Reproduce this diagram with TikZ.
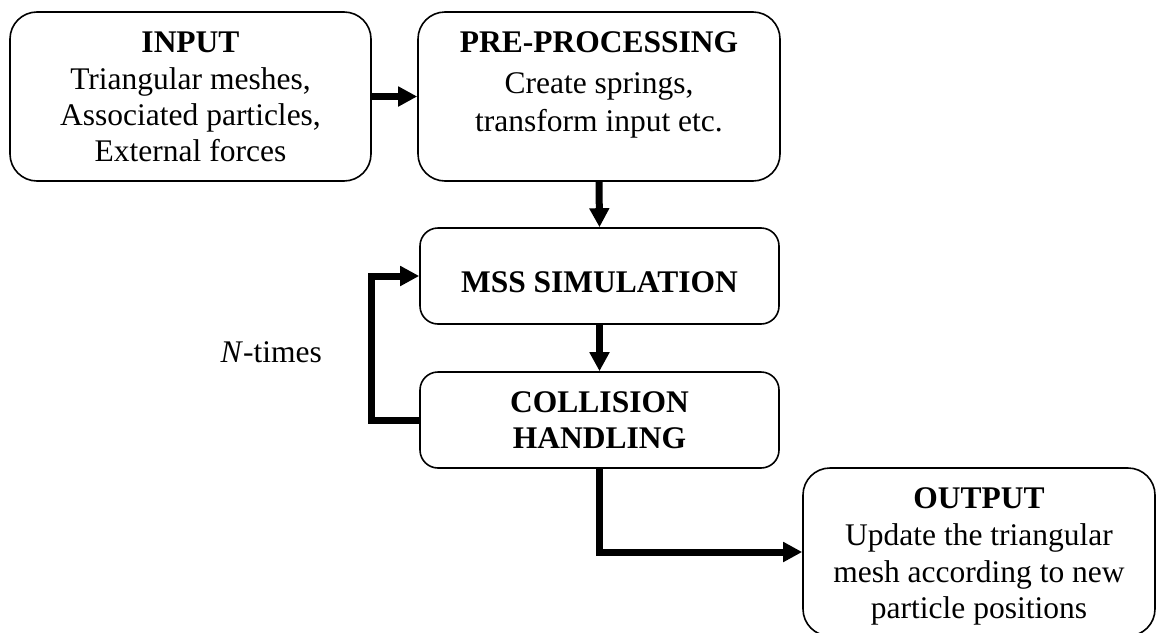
\documentclass[tikz,border=0pt]{standalone}
\usepackage{fontspec}
\setmainfont{Liberation Serif}
\usetikzlibrary{arrows.meta}
\begin{document}
\begin{tikzpicture}[x=1pt,y=-1pt,
  bigbox/.style={draw, line width=1.6pt, rounded corners=27pt, inner sep=0pt, fill=white},
  smallbox/.style={draw, line width=1.6pt, rounded corners=18pt, inner sep=0pt, fill=white},
  txt/.style={font=\fontsize{31.5}{36}\selectfont, anchor=base, inner sep=0pt},
  ttl/.style={font=\fontsize{31.5}{36}\selectfont\bfseries, anchor=base, inner sep=0pt},
  arr/.style={line width=7pt, line join=miter, -{Triangle[length=19pt,width=19pt]}}]
\useasboundingbox (0,0) rectangle (1156,632);
\clip (0,0) rectangle (1156,632);
% boxes
\node[bigbox, minimum width=361pt, minimum height=169pt] (inp) at (190.5,96.5) {};
\node[bigbox, minimum width=362pt, minimum height=169pt] (pre) at (599,96.5) {};
\node[smallbox, minimum width=359pt, minimum height=96pt] (mss) at (599.5,276) {};
\node[smallbox, minimum width=359pt, minimum height=96pt] (col) at (599.5,420) {};
\node[bigbox, minimum width=352pt, minimum height=168pt] (out) at (979,552) {};
% texts
\node[ttl] (inpt) at (190.5,52) {INPUT};
\node[txt] (inp1) at (190.5,89) {Triangular meshes,};
\node[txt] (inp2) at (190.5,125) {Associated particles,};
\node[txt] (inp3) at (190.5,161) {External forces};
\node[ttl] (pret) at (599,52) {PRE-PROCESSING};
\node[txt] (pre1) at (599,93) {Create springs,};
\node[txt] (pre2) at (599,131) {transform input etc.};
\node[ttl] (msst) at (599.5,292) {MSS SIMULATION};
\node[ttl] (colt1) at (599.5,412) {COLLISION};
\node[ttl] (colt2) at (599.5,448) {HANDLING};
\node[ttl] (outt) at (979,508) {OUTPUT};
\node[txt] (out1) at (979,545) {Update the triangular};
\node[txt] (out2) at (979,582) {mesh according to new};
\node[txt] (out3) at (979,618) {particle positions};
\node[txt, anchor=base east] (ntimes) at (322,362) {\textit{N}-times};
% connectors
\draw[arr] (inp.east) -- (pre.west);
\draw[arr] (pre.south) -- (mss.north);
\draw[arr] (mss.south) -- (col.north);
\draw[arr] (col.west) -- ++(-48,0) |- (mss.west);
\draw[arr] (col.south) |- (out.west);
\end{tikzpicture}
\end{document}
